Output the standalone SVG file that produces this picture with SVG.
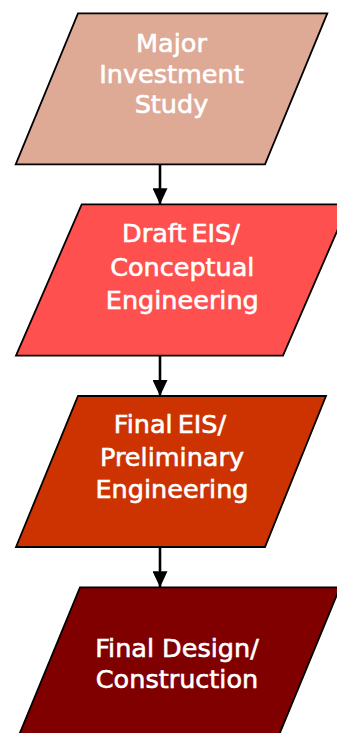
<svg xmlns="http://www.w3.org/2000/svg" width="337" height="733" viewBox="0 0 337 733">
  <style>
    .node { stroke: #000000; stroke-width: 1.8; stroke-linejoin: miter; }
    .label { font-family: "DejaVu Sans", Verdana, sans-serif; font-size: 25.5px; fill: #FFFFFF; stroke: #FFFFFF; stroke-width: 0.6; text-anchor: middle; }
    .conn { stroke: #000000; stroke-width: 2.6; fill: none; }
  </style>
  <defs>
    <marker id="arrow" viewBox="0 0 16 15" refX="16" refY="7.5" markerWidth="16" markerHeight="15" markerUnits="userSpaceOnUse" orient="auto">
      <path d="M0,0 L16,7.5 L0,15 Z" fill="#000000"/>
    </marker>
  </defs>

  <g id="connectors">
    <line class="conn" x1="160" y1="164.3" x2="160" y2="204.3" marker-end="url(#arrow)"/>
    <line class="conn" x1="160" y1="355.7" x2="160" y2="396" marker-end="url(#arrow)"/>
    <line class="conn" x1="160" y1="547" x2="160" y2="587.3" marker-end="url(#arrow)"/>
  </g>

  <g id="node-major-investment-study">
    <polygon class="node" fill="#DEA995" points="78,13.3 327.3,13.3 265,164.3 15.7,164.3"/>
    <text class="label" x="171.5" y="52">Major</text>
    <text class="label" x="171.5" y="82.5">Investment</text>
    <text class="label" x="171.5" y="113">Study</text>
  </g>

  <g id="node-draft-eis">
    <polygon class="node" fill="#FF5050" points="81.7,204.3 348.7,204.3 283,355.7 16,355.7"/>
    <text class="label" x="181" y="242" word-spacing="-3">Draft EIS/</text>
    <text class="label" x="182.3" y="275.5">Conceptual</text>
    <text class="label" x="182.3" y="309">Engineering</text>
  </g>

  <g id="node-final-eis">
    <polygon class="node" fill="#CC3300" points="78,396 326,396 265,547 16,547"/>
    <text class="label" x="170" y="433.3" word-spacing="-3">Final EIS/</text>
    <text class="label" x="172" y="466">Preliminary</text>
    <text class="label" x="172" y="498.3">Engineering</text>
  </g>

  <g id="node-final-design">
    <polygon class="node" fill="#800000" points="80,587.3 340,587.3 277,740 17,740"/>
    <text class="label" x="177" y="656.7">Final Design/</text>
    <text class="label" x="177" y="688.3">Construction</text>
  </g>
</svg>
